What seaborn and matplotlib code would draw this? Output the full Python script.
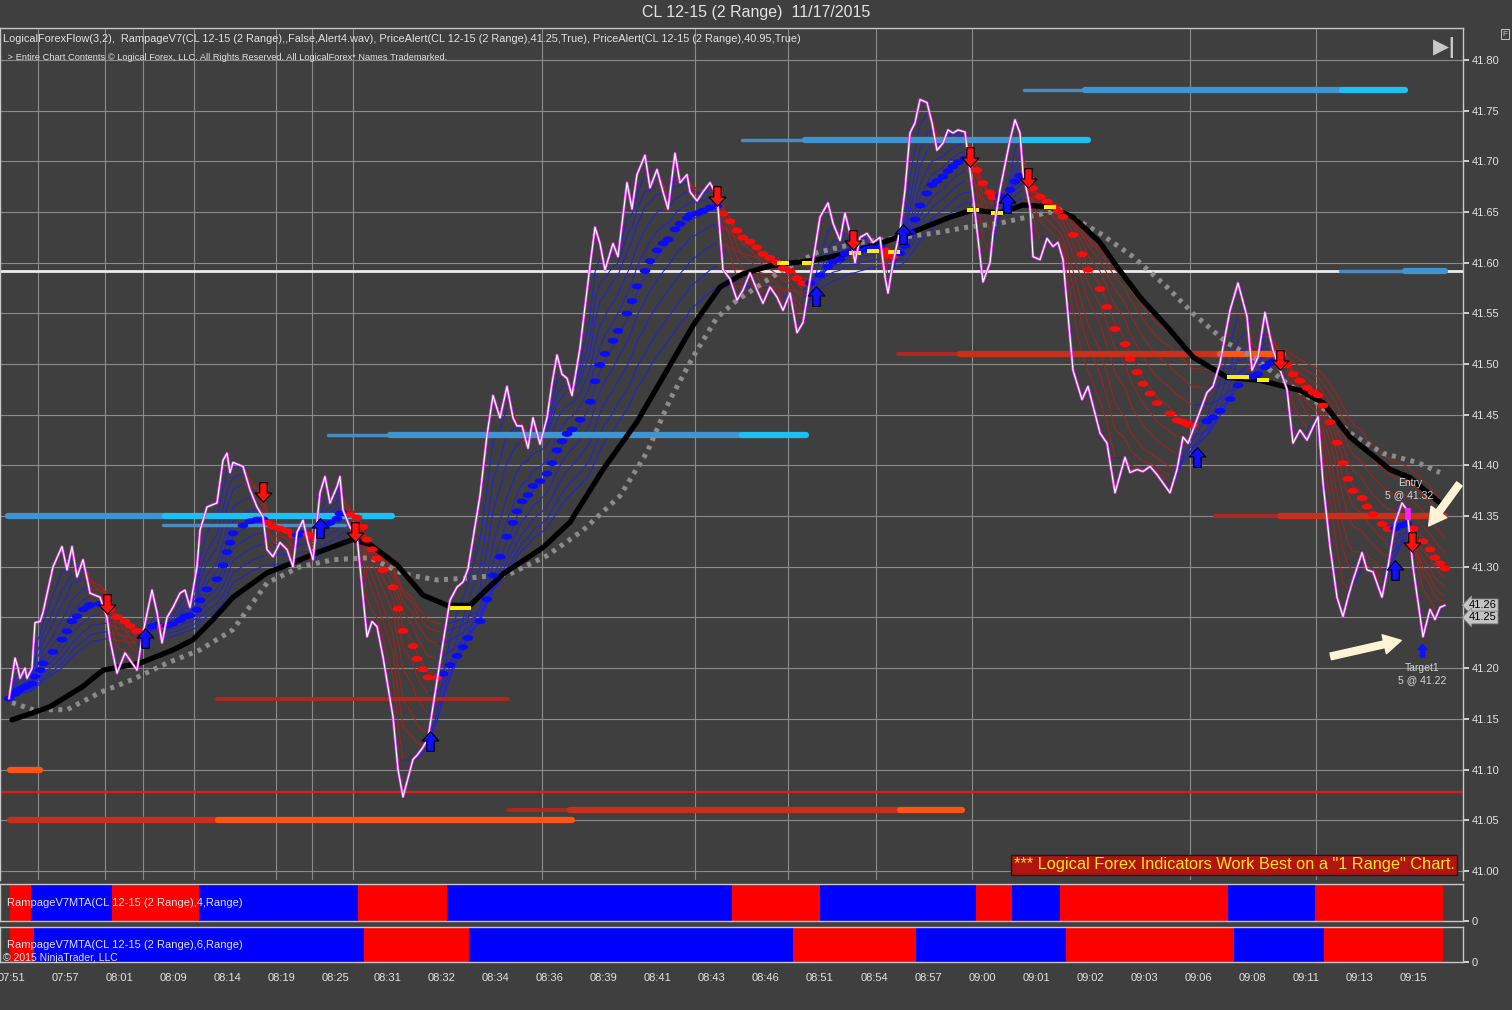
import numpy as np
import pandas as pd
import matplotlib
matplotlib.use("Agg")
import matplotlib.pyplot as plt
import seaborn as sns
from matplotlib.path import Path
from matplotlib.collections import LineCollection

# ---- data (x = bar position, y = price) ----
price_pts = [(9, 41.17), (15, 41.21), (18, 41.20), (20, 41.19), (25, 41.20), (27, 41.19), (32, 41.20),
             (35, 41.245), (40, 41.246), (43, 41.255), (53, 41.30), (62, 41.32), (67, 41.297), (72, 41.32),
             (77, 41.29), (83, 41.307), (88, 41.284), (90, 41.274), (100, 41.27), (107, 41.25), (110, 41.228),
             (117, 41.195), (125, 41.215), (130, 41.208), (137, 41.198), (143, 41.235), (152, 41.277),
             (157, 41.255), (162, 41.225), (167, 41.25), (173, 41.26), (180, 41.274), (185, 41.277),
             (190, 41.26), (197, 41.30), (200, 41.336), (207, 41.359), (217, 41.363), (223, 41.405),
             (227, 41.412), (230, 41.393), (233, 41.403), (243, 41.399), (250, 41.376), (257, 41.359),
             (263, 41.349), (267, 41.317), (273, 41.31), (280, 41.324), (287, 41.317), (293, 41.30),
             (297, 41.334), (303, 41.346), (308, 41.324), (313, 41.307), (320, 41.373), (325, 41.389),
             (330, 41.363), (337, 41.379), (340, 41.389), (343, 41.356), (350, 41.339), (357, 41.33),
             (363, 41.27), (367, 41.231), (372, 41.246), (377, 41.241), (383, 41.211), (393, 41.152),
             (398, 41.10), (403, 41.073), (413, 41.11), (417, 41.114), (423, 41.122), (428, 41.131),
             (437, 41.187), (443, 41.225), (450, 41.267), (457, 41.28), (463, 41.285), (468, 41.298),
             (480, 41.37), (487, 41.43), (493, 41.469), (500, 41.447), (507, 41.478), (513, 41.447),
             (517, 41.439), (522, 41.439), (528, 41.417), (533, 41.447), (540, 41.421), (547, 41.447),
             (552, 41.481), (557, 41.509), (562, 41.49), (567, 41.486), (572, 41.469), (580, 41.516),
             (590, 41.597), (595, 41.635), (600, 41.619), (605, 41.593), (613, 41.619), (618, 41.606),
             (627, 41.679), (632, 41.653), (637, 41.687), (645, 41.706), (650, 41.674), (657, 41.692),
             (663, 41.67), (668, 41.653), (675, 41.708), (680, 41.679), (687, 41.687), (690, 41.67),
             (697, 41.661), (703, 41.67), (710, 41.679), (717, 41.666), (723, 41.593), (730, 41.584),
             (737, 41.563), (743, 41.573), (750, 41.59), (757, 41.573), (763, 41.56), (770, 41.576),
             (777, 41.566), (783, 41.553), (790, 41.57), (797, 41.531), (803, 41.541), (810, 41.583),
             (820, 41.645), (828, 41.659), (833, 41.639), (840, 41.622), (845, 41.649), (850, 41.629),
             (855, 41.60), (860, 41.625), (867, 41.629), (873, 41.62), (880, 41.625), (885, 41.586),
             (888, 41.57), (893, 41.60), (900, 41.632), (905, 41.672), (910, 41.728), (915, 41.738),
             (920, 41.761), (927, 41.758), (932, 41.738), (937, 41.711), (943, 41.718), (948, 41.731),
             (953, 41.728), (958, 41.731), (965, 41.729), (972, 41.675), (977, 41.632), (983, 41.581),
             (990, 41.60), (993, 41.629), (1000, 41.672), (1010, 41.721), (1015, 41.741), (1020, 41.728),
             (1023, 41.689), (1030, 41.655), (1033, 41.606), (1040, 41.603), (1047, 41.624), (1053, 41.616),
             (1058, 41.62), (1063, 41.603), (1073, 41.494), (1082, 41.465), (1088, 41.478), (1100, 41.432),
             (1107, 41.422), (1115, 41.373), (1125, 41.408), (1130, 41.393), (1137, 41.396), (1143, 41.394),
             (1150, 41.399), (1157, 41.391), (1170, 41.373), (1177, 41.396), (1183, 41.428), (1188, 41.422),
             (1193, 41.435), (1207, 41.472), (1213, 41.478), (1220, 41.501), (1230, 41.553), (1238, 41.58),
             (1247, 41.547), (1252, 41.494), (1258, 41.507), (1265, 41.551), (1270, 41.527), (1273, 41.514),
             (1287, 41.475), (1293, 41.422), (1300, 41.435), (1307, 41.425), (1313, 41.438), (1318, 41.448),
             (1323, 41.383), (1330, 41.32), (1337, 41.27), (1343, 41.251), (1348, 41.27), (1353, 41.287),
             (1362, 41.314), (1367, 41.297), (1373, 41.295), (1382, 41.27), (1388, 41.30), (1395, 41.343),
             (1402, 41.363), (1407, 41.356), (1413, 41.30), (1423, 41.231), (1430, 41.258), (1435, 41.248),
             (1440, 41.26), (1445, 41.262)]

# thick black trend line
trend_pts = [(12, 41.149), (33, 41.156), (50, 41.162), (83, 41.182), (103, 41.198), (140, 41.205),
             (173, 41.218), (193, 41.228), (213, 41.248), (233, 41.27), (267, 41.294), (293, 41.304),
             (317, 41.314), (353, 41.327), (370, 41.322), (397, 41.302), (423, 41.272), (447, 41.262),
             (470, 41.262), (503, 41.293), (543, 41.319), (570, 41.344), (603, 41.396), (637, 41.443),
             (670, 41.499), (693, 41.538), (720, 41.576), (743, 41.589), (770, 41.597), (817, 41.603),
             (850, 41.61), (883, 41.62), (917, 41.632), (950, 41.645), (973, 41.652), (1000, 41.649),
             (1023, 41.657), (1050, 41.655), (1073, 41.645), (1100, 41.62), (1117, 41.596), (1140, 41.566),
             (1167, 41.537), (1193, 41.507), (1227, 41.487), (1260, 41.484), (1300, 41.474), (1323, 41.462),
             (1350, 41.428), (1390, 41.396), (1410, 41.388), (1440, 41.363)]

# grey dotted slow line
slow_pts = [(12, 41.166), (33, 41.159), (67, 41.159), (100, 41.176), (133, 41.189), (167, 41.205),
            (200, 41.218), (233, 41.238), (267, 41.284), (300, 41.30), (333, 41.307), (370, 41.309),
            (403, 41.293), (437, 41.287), (470, 41.289), (510, 41.293), (547, 41.311), (583, 41.336),
            (620, 41.37), (647, 41.413), (670, 41.465), (693, 41.507), (717, 41.546), (737, 41.563),
            (763, 41.58), (783, 41.593), (817, 41.61), (860, 41.62), (900, 41.625), (933, 41.629),
            (967, 41.635), (1000, 41.639), (1027, 41.645), (1060, 41.652), (1100, 41.629), (1133, 41.606),
            (1167, 41.576), (1193, 41.55), (1227, 41.521), (1253, 41.507), (1287, 41.481), (1317, 41.462),
            (1350, 41.432), (1383, 41.412), (1417, 41.403), (1440, 41.393)]

sell_x = [107, 263, 355, 717, 853, 970, 1028, 1280, 1412]
sell_y = [41.263, 41.374, 41.334, 41.666, 41.622, 41.704, 41.684, 41.504, 41.324]
buy_x = [145, 320, 430, 816, 903, 1007, 1197, 1395]
buy_y = [41.23, 41.338, 41.128, 41.567, 41.628, 41.659, 41.408, 41.297]
target_x = [1422]
target_y = [41.218]

target_marks_x = [455, 465, 783, 808, 855, 873, 894, 973, 997, 1050, 1233, 1243, 1263]
target_marks_y = [41.259, 41.259, 41.60, 41.60, 41.61, 41.612, 41.611, 41.652, 41.649, 41.655, 41.487, 41.487, 41.484]

# horizontal level segments: price, start bar, end bar, kind
levels = [(41.77, 1024, 1085, "b1"), (41.77, 1085, 1342, "b2"), (41.77, 1342, 1405, "b3"),
          (41.721, 742, 805, "b1"), (41.721, 805, 1022, "b2"), (41.721, 1022, 1088, "b3"),
          (41.43, 328, 390, "b1"), (41.43, 390, 742, "b2"), (41.43, 742, 806, "b3"),
          (41.35, 8, 165, "b2"), (41.35, 165, 392, "b3"), (41.341, 163, 345, "b1"),
          (41.592, 1340, 1405, "b1"), (41.592, 1405, 1445, "b2"),
          (41.51, 898, 960, "r1"), (41.51, 960, 1220, "r2"), (41.51, 1220, 1283, "r3"),
          (41.35, 1215, 1280, "r1"), (41.35, 1280, 1445, "r2"), (41.17, 217, 508, "r1"),
          (41.10, 10, 40, "r3"), (41.05, 10, 218, "r2"), (41.05, 218, 572, "r3"),
          (41.06, 508, 570, "r1"), (41.06, 570, 900, "r2"), (41.06, 900, 962, "r3")]
alert_white = 41.592
alert_red = 41.078

# MTA panels: segment edges and state (1 = up/blue, 0 = down/red)
mta4_edges = [10, 31, 112, 199, 358, 447, 732, 820, 976, 1012, 1060, 1228, 1315, 1443]
mta4_state = [0, 1, 0, 1, 0, 1, 0, 1, 0, 1, 0, 1, 0]
mta6_edges = [10, 34, 364, 469, 793, 916, 1066, 1234, 1324, 1443]
mta6_state = [0, 1, 0, 1, 0, 1, 0, 1, 0]

time_ticks = [11, 65, 119, 173, 227, 281, 335, 388, 442, 496, 550, 604, 658, 712, 766, 820, 874,
              928, 982, 1036, 1090, 1144, 1198, 1252, 1306, 1360, 1413]
time_labels = ["07:51", "07:57", "08:01", "08:09", "08:14", "08:19", "08:25", "08:31", "08:32", "08:34",
               "08:36", "08:39", "08:41", "08:43", "08:46", "08:51", "08:54", "08:57", "09:00", "09:01",
               "09:02", "09:03", "09:06", "09:08", "09:11", "09:13", "09:15"]
grid_bars = [38, 105, 143, 194, 276, 312, 353, 542, 695, 788, 876, 972, 1190, 1316]
ribbon_spans = [3, 5, 7, 10, 13, 17, 21, 26, 32, 38]

# ---- styling ----
BG = "#3f3f3f"
FG = "#e2e2e2"
GRID = "#8a8a8a"
sns.set_theme(style="dark", rc={"axes.facecolor": BG, "figure.facecolor": BG})
plt.rcParams["font.family"] = ["Liberation Sans", "DejaVu Sans"]

level_style = {"b1": ("#4a8cc2", 2.5), "b2": ("#3f95d2", 4.5), "b3": ("#1cc0f2", 4.5),
               "r1": ("#b3261e", 2.8), "r2": ("#c9301c", 4.5), "r3": ("#ff5412", 4.5)}

px, py = map(np.array, zip(*price_pts))
tx, ty = map(np.array, zip(*trend_pts))
sx, sy = map(np.array, zip(*slow_pts))

fig = plt.figure(figsize=(15.12, 10.10), dpi=100)
W, H = 1512.0, 1010.0
ax = fig.add_axes([0, 1 - 880 / H, 1463 / W, (880 - 28) / H])
p1 = fig.add_axes([0, 1 - 921 / H, 1463 / W, 37 / H])
p2 = fig.add_axes([0, 1 - 962 / H, 1463 / W, 35 / H])

ax.set_xlim(0, 1463)
ax.set_ylim(40.991, 41.8316)

# grid
ax.set_yticks(np.round(np.arange(41.0, 41.801, 0.05), 2))
ax.set_yticklabels([f"{v:.2f}" for v in np.arange(41.0, 41.801, 0.05)])
ax.set_xticks(grid_bars)
ax.set_xticklabels([])
ax.grid(True, color=GRID, lw=0.8)
ax.yaxis.tick_right()
ax.tick_params(axis="y", colors=FG, labelsize=8, length=4, direction="out", pad=2, right=True)
ax.tick_params(axis="x", length=0)
for s in ax.spines.values():
    s.set_color("#c8c8c8")
    s.set_linewidth(1.0)
ax.spines["bottom"].set_visible(False)

# full width alert lines
ax.axhline(alert_white, color="#ececec", lw=2.0, zorder=2)
ax.axhline(alert_red, color="#dd1c1c", lw=1.6, zorder=2)

# ribbons (EMAs of the price), blue when rising, red when falling
for span in ribbon_spans:
    e = pd.Series(py).ewm(span=span, adjust=False).mean().to_numpy()
    segs = np.stack([np.column_stack([px[:-1], e[:-1]]), np.column_stack([px[1:], e[1:]])], axis=1)
    cols = np.where(np.diff(e) >= 0, "#2222d8", "#a2241e")
    ax.add_collection(LineCollection(segs, colors=cols, linewidths=0.75, zorder=3))

# level bars
for price, x0, x1, kind in levels:
    c, lw = level_style[kind]
    ax.plot([x0, x1], [price, price], color=c, lw=lw, solid_capstyle="round", zorder=4)

# slow dotted and trend lines
sns.lineplot(x=sx, y=sy, ax=ax, color="#8c8c8c", lw=3.6, linestyle=(0, (0.8, 1.1)), zorder=5)
sns.lineplot(x=tx, y=ty, ax=ax, color="black", lw=3.8, zorder=6)

# trailing stop dots (pill shaped)
t = np.linspace(0, 2 * np.pi, 24)
pill = Path(np.column_stack([np.cos(t), 0.55 * np.sin(t)]))
stop = pd.Series(py).ewm(span=16, adjust=False).mean().to_numpy()
stop_up = np.r_[True, np.diff(stop) >= 0]
dots = pd.DataFrame({"x": px, "y": stop, "dir": np.where(stop_up, "up", "down")})
sns.scatterplot(data=dots, x="x", y="y", hue="dir", palette={"up": "#0a0aff", "down": "#ff0a0a"},
                s=60, marker=pill, edgecolor="none", legend=False, ax=ax, zorder=7)

# small yellow target marks
dash = [(-1, -0.3), (1, -0.3), (1, 0.3), (-1, 0.3), (-1, -0.3)]
ax.scatter(target_marks_x, target_marks_y, marker=dash, s=70, color="#ffee00", zorder=8, linewidths=0)

# price line: magenta outline with white core
sns.lineplot(x=px, y=py, ax=ax, color="#e040f0", lw=1.9, zorder=9)
sns.lineplot(x=px, y=py, ax=ax, color="white", lw=0.8, zorder=10)

# signal arrows
up_arrow = Path([(-0.38, -1), (0.38, -1), (0.38, 0.05), (0.85, 0.05), (0, 1), (-0.85, 0.05),
                 (-0.38, 0.05), (-0.38, -1)])
down_arrow = Path([(x, -y) for x, y in up_arrow.vertices])
ax.scatter(sell_x, sell_y, marker=down_arrow, s=200, color="#ff1010", edgecolor="black", lw=0.8, zorder=11)
ax.scatter(buy_x, buy_y, marker=up_arrow, s=200, color="#1010ff", edgecolor="black", lw=0.8, zorder=11)
ax.scatter(target_x, target_y, marker=up_arrow, s=110, color="#1010ff", lw=0, zorder=11)
ax.scatter([1408], [41.352], marker="|", s=80, color="#ff20ff", lw=4, zorder=11)

# entry / target notes
ax.text(1410, 41.383, "Entry", color="#d6d6d6", fontsize=7.5, ha="center", va="center", zorder=12)
ax.text(1409, 41.371, "5 @ 41.32", color="#d6d6d6", fontsize=7.5, ha="center", va="center", zorder=12)
ax.text(1422, 41.200, "Target1", color="#d6d6d6", fontsize=7.5, ha="center", va="center", zorder=12)
ax.text(1422, 41.188, "5 @ 41.22", color="#d6d6d6", fontsize=7.5, ha="center", va="center", zorder=12)
arrow_kw = dict(arrowstyle="simple,head_width=1.0,head_length=0.9,tail_width=0.35",
                color="#fff3d6", mutation_scale=14)
ax.annotate("", xy=(1427, 41.338), xytext=(1461, 41.384), arrowprops=arrow_kw, zorder=12)
ax.annotate("", xy=(1404, 41.228), xytext=(1328, 41.211), arrowprops=arrow_kw, zorder=12)

# last price tags on the axis
for v in [41.262, 41.25]:
    ax.annotate(f"{v:.2f}", xy=(1.004, v), xycoords=ax.get_yaxis_transform(), fontsize=8,
                color="black", va="center", ha="left", annotation_clip=False,
                bbox=dict(boxstyle="larrow,pad=0.12", fc="#c4c4c4", ec="#8a8a8a", lw=0.6))

# warning box
ax.text(1234, 41.006, '*** Logical Forex Indicators Work Best on a "1 Range" Chart.', color="#ffe61e",
        fontsize=11.8, ha="center", va="center", zorder=12,
        bbox=dict(boxstyle="square,pad=0.15", fc="#b2140f", ec="#1a1a1a", lw=1))

# MTA panels
for pax, edges, state, label in [(p1, mta4_edges, mta4_state, "RampageV7MTA(CL 12-15 (2 Range),4,Range)"),
                                 (p2, mta6_edges, mta6_state, "RampageV7MTA(CL 12-15 (2 Range),6,Range)")]:
    pax.set_xlim(0, 1463)
    pax.set_ylim(0, 1)
    lefts = edges[:-1]
    widths = np.diff(edges)
    cols = ["#0000ff" if s else "#ff0000" for s in state]
    pax.bar(lefts, np.ones(len(lefts)), width=widths, align="edge", color=cols, lw=0)
    pax.text(7, 0.5, label, color=FG, fontsize=8, va="center", ha="left")
    pax.yaxis.tick_right()
    pax.set_yticks([0])
    pax.set_yticklabels(["0"])
    pax.tick_params(axis="y", colors=FG, labelsize=8, length=4, pad=2)
    pax.grid(False)
    for s in pax.spines.values():
        s.set_color("#c8c8c8")
        s.set_linewidth(1.0)
    pax.set_xticks([])

p2.text(3, 0.12, "\u00a9 2015 NinjaTrader, LLC", color=FG, fontsize=7.5, va="center", ha="left")
p2.set_xticks(time_ticks)
p2.set_xticklabels(time_labels)
p2.tick_params(axis="x", colors=FG, labelsize=8, length=4, direction="out", pad=4)

# header texts
fig.text(0.5, 1 - 13 / H, "CL 12-15 (2 Range)  11/17/2015", color=FG, fontsize=11.5, ha="center", va="center")
fig.text(3 / W, 1 - 39 / H,
         "LogicalForexFlow(3,2),  RampageV7(CL 12-15 (2 Range),,False,Alert4.wav), "
         "PriceAlert(CL 12-15 (2 Range),41.25,True), PriceAlert(CL 12-15 (2 Range),40.95,True)",
         color=FG, fontsize=7.9, ha="left", va="center")
fig.text(5 / W, 1 - 57 / H,
         " > Entire Chart Contents \u00a9 Logical Forex, LLC. All Rights Reserved. All LogicalForex* Names Trademarked.",
         color=FG, fontsize=6.7, ha="left", va="center")
fig.text(1445 / W, 1 - 47 / H, "\u25b6|", color="#c8c8c8", fontsize=15, ha="center", va="center",
         family=["DejaVu Sans"], fontweight="bold")
fig.text(1505 / W, 1 - 34 / H, "F", color="#c8c8c8", fontsize=6, ha="center", va="center",
         bbox=dict(boxstyle="square,pad=0.15", fc=BG, ec="#c8c8c8", lw=0.7))

fig.savefig("out.png", dpi=100, facecolor=BG)
